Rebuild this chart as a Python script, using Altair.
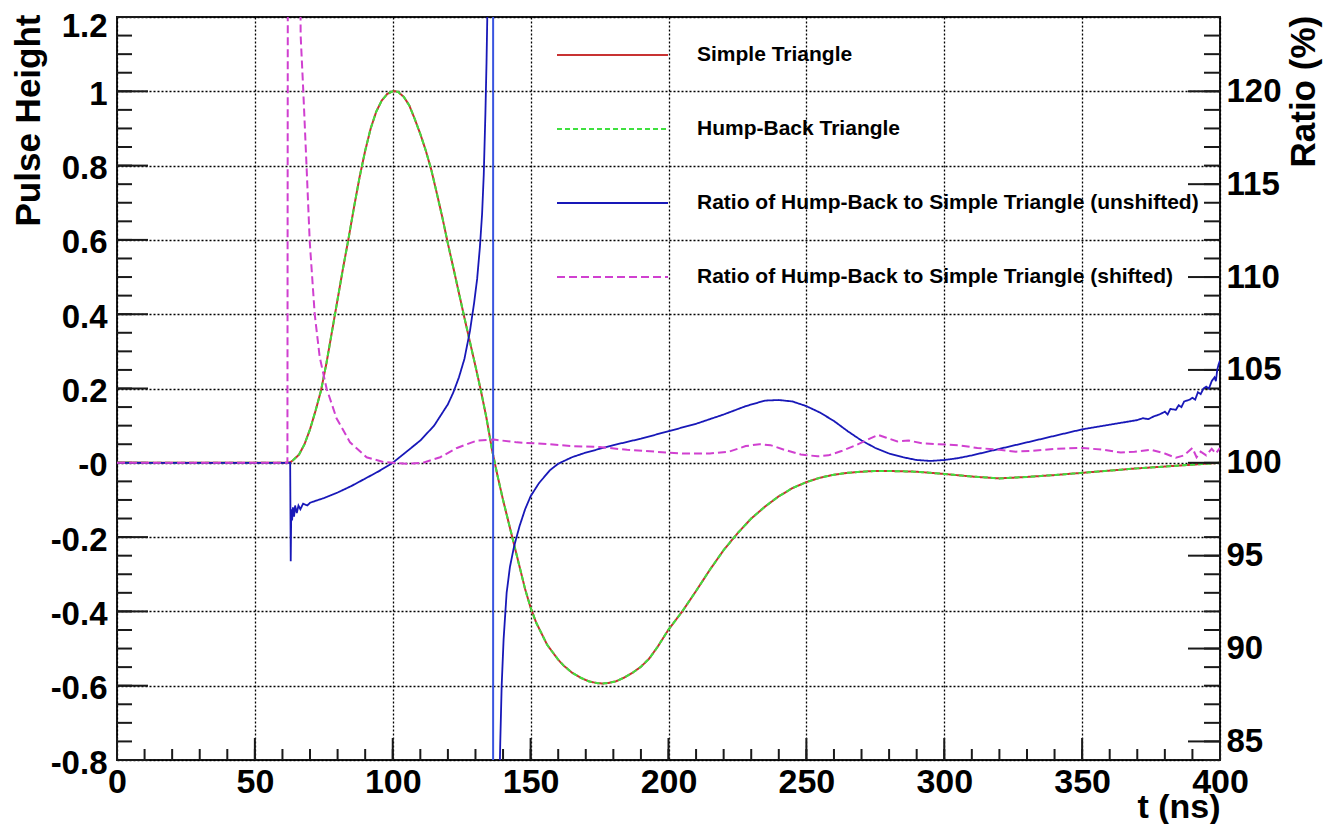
import altair as alt
import pandas as pd

# ---------------- data ----------------
series_names = [
    "Simple Triangle",
    "Hump-Back Triangle",
    "Ratio of Hump-Back to Simple Triangle (unshifted)",
    "Ratio of Hump-Back to Simple Triangle (shifted)",
]
series_colors = ["#c83232", "#3ee03e", "#1818b8", "#d040d0"]
series_dashes = [[1, 0], [5, 3], [1, 0], [8, 4]]

# pulse shape (left axis, Pulse Height)
pulse_t = [0, 60, 62, 63, 64, 66, 68, 70, 72, 74, 76, 78, 80, 82, 84, 86, 88, 90, 92, 94, 96, 98,
           100, 101, 102, 104, 106, 108, 110, 112, 114, 116, 118, 120, 122, 124, 126, 128, 130,
           132, 134, 136, 137, 138, 140, 142, 144, 146, 148, 150, 152, 154, 156, 158, 160, 162,
           165, 168, 171, 174, 176, 178, 181, 184, 187, 190, 193, 196, 200, 205, 210, 215, 220,
           225, 230, 235, 240, 245, 250, 255, 260, 265, 270, 275, 280, 290, 300, 310, 320, 330,
           340, 350, 360, 370, 380, 390, 400]
pulse_v = [0, 0, 0, 0.002, 0.008, 0.022, 0.05, 0.09, 0.14, 0.195, 0.27, 0.355, 0.44, 0.525, 0.605,
           0.69, 0.77, 0.84, 0.9, 0.945, 0.975, 0.993, 1.0, 1.0, 0.998, 0.985, 0.962, 0.925, 0.885,
           0.84, 0.788, 0.725, 0.66, 0.59, 0.524, 0.457, 0.39, 0.325, 0.26, 0.193, 0.12, 0.035, 0.0,
           -0.035, -0.1, -0.16, -0.22, -0.28, -0.34, -0.39, -0.43, -0.46, -0.49, -0.51, -0.53,
           -0.546, -0.565, -0.578, -0.588, -0.593, -0.594, -0.593, -0.588, -0.578, -0.565, -0.549,
           -0.527, -0.496, -0.449, -0.4, -0.345, -0.288, -0.235, -0.19, -0.15, -0.118, -0.09,
           -0.068, -0.052, -0.04, -0.032, -0.027, -0.024, -0.022, -0.022, -0.024, -0.03, -0.037,
           -0.042, -0.038, -0.033, -0.027, -0.021, -0.015, -0.01, -0.005, 0.0]

# ratio, unshifted (right axis, %) - branch before the asymptote
ratio_u1_t = [0, 62.8, 63.0, 63.2, 63.5, 63.8, 64.2, 64.6, 65.2, 65.8, 66.5, 67.5, 69, 70, 75, 80,
              85, 90, 95, 100, 105, 110, 115, 120, 122, 124, 126, 128, 129.5, 130.6, 131.6, 132.4,
              133.0, 133.6, 134.0, 134.4, 134.7]
ratio_u1_v = [100, 100, 94.7, 97.5, 96.9, 97.6, 97.1, 97.7, 97.3, 97.7, 97.5, 97.8, 97.7, 97.85,
              98.1, 98.4, 98.75, 99.15, 99.55, 100.0, 100.6, 101.2, 102.0, 103.15, 103.8, 104.6,
              105.6, 107.1, 108.6, 109.9, 111.6, 113.4, 115.5, 118.8, 121.5, 125, 130]
# branch after the asymptote
ratio_u2_t = [138.4, 138.6, 139.0, 139.5, 140.2, 141.3, 142.5, 144, 146, 148, 150, 153, 157, 160,
              165, 170, 175, 180, 190, 200, 210, 220, 228, 235, 240, 245, 250, 255, 260, 265, 270,
              275, 280, 285, 290, 295, 300, 305, 310, 320, 330, 340, 350, 360, 370, 372, 374, 376,
              378, 380, 381, 382, 384, 385, 386, 387, 389, 390, 391, 392, 393, 394, 395, 396, 397,
              398, 398.5, 399, 399.5, 400]
ratio_u2_v = [70, 82, 85, 88, 90.5, 93.0, 94.4, 95.5, 96.6, 97.5, 98.2, 98.9, 99.6, 99.95, 100.3,
              100.55, 100.75, 100.95, 101.3, 101.7, 102.1, 102.6, 103.05, 103.35, 103.38, 103.3,
              103.05, 102.7, 102.25, 101.7, 101.2, 100.8, 100.5, 100.3, 100.15, 100.1, 100.15,
              100.25, 100.4, 100.75, 101.1, 101.45, 101.8, 102.05, 102.3, 102.4, 102.35, 102.5,
              102.6, 102.75, 102.6, 102.9, 102.85, 103.1, 103.0, 103.3, 103.4, 103.5, 103.4, 103.8,
              103.7, 104.0, 104.1, 104.0, 104.4, 104.6, 104.4, 105.0, 105.3, 105.5]

# asymptote of the unshifted ratio
asym_t = [136.4, 136.4]
asym_v = [70, 130]

# ratio, shifted (right axis, %)
ratio_s_t = [0, 61.8, 62.0, 66.2, 66.6, 67.5, 68.7, 69.9, 71.7, 73.5, 76, 79.6, 84.5, 90.5, 96.6,
             105, 111, 117.2, 123.3, 130.6, 136.7, 145, 157, 165, 175, 185, 195, 205, 215, 222,
             228, 233, 237, 242, 248, 254, 258, 263, 268, 273, 276, 279, 283, 287, 292, 298, 305,
             312, 320, 326, 332, 340, 350, 358, 364, 369, 375, 380, 384, 387, 390, 391.5, 393,
             395, 397, 398.5, 400]
ratio_s_v = [100, 100, 135, 135, 123, 120.2, 116.1, 111.9, 108, 105.7, 104, 102.4, 101.1, 100.3,
             100.04, 99.95, 100.0, 100.3, 100.8, 101.2, 101.25, 101.1, 101.0, 100.9, 100.85, 100.7,
             100.6, 100.5, 100.5, 100.6, 100.9, 101.0, 100.95, 100.7, 100.45, 100.35, 100.4,
             100.65, 100.95, 101.3, 101.5, 101.35, 101.15, 101.2, 101.05, 101.0, 100.95, 100.8,
             100.7, 100.6, 100.65, 100.75, 100.8, 100.7, 100.55, 100.6, 100.7, 100.5, 100.27,
             100.4, 100.8, 100.3, 100.6, 100.4, 100.75, 100.5, 100.8]

# axis ticks
x_major = [0, 50, 100, 150, 200, 250, 300, 350, 400]
x_minor = [10 * i for i in range(41)]
left_major = [-0.8, -0.6, -0.4, -0.2, 0, 0.2, 0.4, 0.6, 0.8, 1.0, 1.2]
left_minor = [round(-0.8 + 0.05 * i, 2) for i in range(41)]
right_major = [85, 90, 95, 100, 105, 110, 115, 120]
right_minor = list(range(84, 125))

# ---------------- layout / style ----------------
W, H = 1103, 743
FONT = "Liberation Sans"
INK = "#1a1a1a"

xs = alt.Scale(domain=[0, 400], nice=False, zero=False)
yl = alt.Scale(domain=[-0.8, 1.2], nice=False, zero=False)
yr = alt.Scale(domain=[84, 124], nice=False, zero=False)
cscale = alt.Scale(domain=series_names, range=series_colors)
dscale = alt.Scale(domain=series_names, range=series_dashes)

legend = alt.Legend(
    orient="none", legendX=439, legendY=1, title=None, direction="vertical",
    symbolType="stroke", symbolSize=12321, symbolStrokeWidth=2, clipHeight=74,
    labelFont=FONT, labelFontSize=21, labelFontWeight="bold", labelColor="#000",
    labelOffset=28, labelLimit=900, padding=0, rowPadding=0,
)

x_axis = alt.Axis(
    orient="bottom", values=x_major, grid=True, gridDash=[2, 2], gridColor="#000",
    gridWidth=1.3, ticks=False, domain=False, labelFlush=False, labelOverlap=False,
    labelFont=FONT, labelFontSize=34, labelFontWeight="bold", labelColor="#000",
    labelPadding=5, title="t (ns)", titleFont=FONT, titleFontSize=34,
    titleFontWeight="bold", titleColor="#000", titleX=W, titleY=57, titleAlign="right",
    titleBaseline="alphabetic",
)
yl_axis = alt.Axis(
    orient="left", values=left_major, grid=True, gridDash=[2, 2], gridColor="#000",
    gridWidth=1.3, ticks=False, domain=False, labelOverlap=False, labelFlush=False,
    labelExpr="datum.value == 0 ? '-0' : '' + datum.value",
    labelOffset={"condition": {"test": "datum.value >= 1.2", "value": 9}, "value": 3},
    labelFont=FONT, labelFontSize=33, labelFontWeight="bold", labelColor="#000",
    labelPadding=10, title="Pulse Height", titleFont=FONT, titleFontSize=35,
    titleFontWeight="bold", titleColor="#000", titleAngle=270, titleX=-89, titleY=-3,
    titleAlign="right", titleBaseline="middle",
)
yr_axis = alt.Axis(
    orient="right", values=right_major, grid=False, ticks=False, domain=False,
    labelOverlap=False, labelFlush=False,
    labelFont=FONT, labelFontSize=33, labelFontWeight="bold", labelColor="#000",
    labelPadding=6, title="Ratio (%)", titleFont=FONT, titleFontSize=35,
    titleFontWeight="bold", titleColor="#000", titleAngle=270, titleX=83, titleY=150,
    titleAlign="left", titleBaseline="middle",
)


def df(parts, name):
    frames = []
    for k, (t, v) in enumerate(parts):
        frames.append(pd.DataFrame({"t": t, "v": v, "seg": k, "series": name}))
    out = pd.concat(frames, ignore_index=True)
    out["idx"] = range(len(out))
    return out


def series_line(data, yscale, yaxis, width):
    return alt.Chart(data).mark_line(clip=True, strokeWidth=width, interpolate="linear").encode(
        x=alt.X("t:Q", scale=xs, axis=x_axis),
        y=alt.Y("v:Q", scale=yscale, axis=yaxis),
        color=alt.Color("series:N", scale=cscale, legend=legend),
        strokeDash=alt.StrokeDash("series:N", scale=dscale, legend=legend),
        detail="seg:N",
        order="idx:Q",
    )


red = series_line(df([(pulse_t, pulse_v)], series_names[0]), yl, yl_axis, 2)
green = series_line(df([(pulse_t, pulse_v)], series_names[1]), yl, yl_axis, 2)

# ticks (drawn inward, ROOT style)
lmaj = alt.Chart(pd.DataFrame({"v": left_major})).mark_rule(color=INK, strokeWidth=2).encode(
    y=alt.Y("v:Q", scale=yl, axis=yl_axis), x=alt.value(0), x2=alt.value(31))
lmin = alt.Chart(pd.DataFrame({"v": left_minor})).mark_rule(color=INK, strokeWidth=2).encode(
    y=alt.Y("v:Q", scale=yl, axis=yl_axis), x=alt.value(0), x2=alt.value(15))
bmaj = alt.Chart(pd.DataFrame({"t": x_major})).mark_rule(color=INK, strokeWidth=2).encode(
    x=alt.X("t:Q", scale=xs, axis=x_axis), y=alt.value(H), y2=alt.value(H - 22))
bmin = alt.Chart(pd.DataFrame({"t": x_minor})).mark_rule(color=INK, strokeWidth=2).encode(
    x=alt.X("t:Q", scale=xs, axis=x_axis), y=alt.value(H), y2=alt.value(H - 11))

left = alt.layer(lmin, lmaj, bmin, bmaj, red, green)

blue = series_line(df([(ratio_u1_t, ratio_u1_v), (ratio_u2_t, ratio_u2_v)], series_names[2]),
                   yr, yr_axis, 1.8)
magenta = series_line(df([(ratio_s_t, ratio_s_v)], series_names[3]), yr, yr_axis, 2)
asym = alt.Chart(pd.DataFrame({"t": asym_t, "v": asym_v})).mark_line(
    clip=True, color="#3a55e0", strokeWidth=2).encode(
    x=alt.X("t:Q", scale=xs, axis=x_axis), y=alt.Y("v:Q", scale=yr, axis=yr_axis))
rmaj = alt.Chart(pd.DataFrame({"v": right_major})).mark_rule(color=INK, strokeWidth=2).encode(
    y=alt.Y("v:Q", scale=yr, axis=yr_axis), x=alt.value(W), x2=alt.value(W - 32))
rmin = alt.Chart(pd.DataFrame({"v": right_minor})).mark_rule(color=INK, strokeWidth=2).encode(
    y=alt.Y("v:Q", scale=yr, axis=yr_axis), x=alt.value(W), x2=alt.value(W - 16))

right = alt.layer(rmin, rmaj, asym, blue, magenta)

chart = alt.layer(left, right).resolve_scale(y="independent").resolve_axis(
    y="independent").properties(
    width=W, height=H,
    autosize=alt.AutoSizeParams(type="none"),
    padding={"left": 109, "top": 9, "right": 111, "bottom": 64},
    background="#ffffff",
).configure_view(stroke=INK, strokeWidth=2)

chart.save("out.html", embed_options={"renderer": "svg", "actions": False})
